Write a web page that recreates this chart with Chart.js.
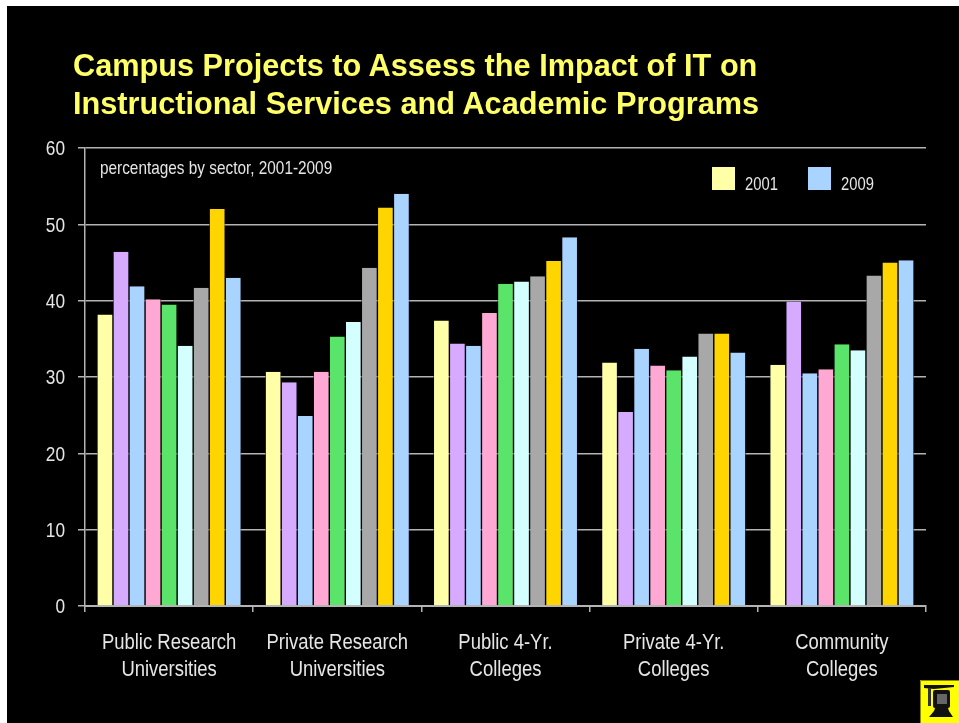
<!DOCTYPE html>
<html>
<head>
<meta charset="utf-8">
<title>Campus Projects</title>
<script src="https://cdn.jsdelivr.net/npm/chart.js@4"></script>
<style>
    html, body { margin: 0; padding: 0; background: #fff; width: 959px; height: 723px; overflow: hidden; }
    #panel { position: absolute; left: 7px; top: 6px; width: 952px; height: 717px; background: #000; }
    #lineChart { position: absolute; left: 0; top: 0; }
    .txt { position: absolute; white-space: nowrap; transform-origin: 0 0; }
    #title { left: 73px; top: 47px; color: #ffff66; font: bold 30.7px/38px "Liberation Sans", Arial, sans-serif; }
    #note { left: 100px; top: 158px; color: #e6e6e6; font: 18.5px/20px "Liberation Sans", sans-serif; transform: scaleX(0.83); }
    .swatch { position: absolute; top: 167px; width: 23px; height: 23px; }
    .leg { top: 174px; color: #e6e6e6; font: 18px/20px "Liberation Sans", sans-serif; transform: scaleX(0.82); }
    #logo { position: absolute; left: 920px; top: 680px; }
</style>
</head>
<body>
<div id="panel"></div>
<canvas id="lineChart" width="959" height="723"></canvas>
<div class="txt" id="title"></div>
<div class="txt" id="note"></div>
<div id="legendBox"></div>
<svg id="logo" width="39" height="43" viewBox="0 0 39 43">
    <rect x="0" y="0" width="39" height="43" fill="#ffff00"/>
    <path d="M0.5 43 L0.5 0.5 L39 0.5" fill="none" stroke="#8a8a00" stroke-width="1"/>
    <path d="M4 5 L34 5 L34 7 L14 9 L4 8 Z" fill="#111"/>
    <rect x="8" y="8" width="3" height="18" fill="#333"/>
    <rect x="13" y="10" width="17" height="18" rx="2" fill="#111"/>
    <rect x="17" y="14" width="10" height="10" fill="#666"/>
    <path d="M15 28 L28 28 L29 31 L33 37 L9 37 L14 31 Z" fill="#111"/>
</svg>
<script>
const titleLines = ['Campus Projects to Assess the Impact of IT on', 'Instructional Services and Academic Programs'];
const noteText = 'percentages by sector, 2001-2009';

const categories = [
    ['Public Research', 'Universities'],
    ['Private Research', 'Universities'],
    ['Public 4-Yr.', 'Colleges'],
    ['Private 4-Yr.', 'Colleges'],
    ['Community', 'Colleges']
];
const yTicks = [0, 10, 20, 30, 40, 50, 60];

const years = ['2001', '2002', '2003', '2004', '2005', '2006', '2007', '2008', '2009'];
const colors = ['#ffffa8', '#d6abff', '#a8d4ff', '#ffa8d4', '#5ae46a', '#d4ffff', '#a8a8a8', '#ffd500', '#a8d4ff'];

const y2001 = [38.2, 30.7, 37.4, 31.9, 31.6];
const y2002 = [46.4, 29.3, 34.4, 25.4, 39.9];
const y2003 = [41.9, 24.9, 34.1, 33.7, 30.5];
const y2004 = [40.2, 30.7, 38.4, 31.5, 31.0];
const y2005 = [39.5, 35.3, 42.2, 30.9, 34.3];
const y2006 = [34.1, 37.2, 42.5, 32.7, 33.5];
const y2007 = [41.7, 44.3, 43.2, 35.7, 43.3];
const y2008 = [52.0, 52.2, 45.2, 35.7, 45.0];
const y2009 = [43.0, 54.0, 48.3, 33.2, 45.3];
const series = [y2001, y2002, y2003, y2004, y2005, y2006, y2007, y2008, y2009];

const legendYears = ['2001', '2009'];

document.getElementById('title').innerHTML = titleLines.join('<br>');
document.getElementById('note').textContent = noteText;

// only the first and last year get a legend entry, same as the slide
const legendBox = document.getElementById('legendBox');
const legendX = [711.5, 807.5];
legendYears.forEach((yr, i) => {
    const sw = document.createElement('div');
    sw.className = 'swatch';
    sw.style.left = legendX[i] + 'px';
    sw.style.background = colors[years.indexOf(yr)];
    legendBox.appendChild(sw);
    const t = document.createElement('div');
    t.className = 'txt leg';
    t.style.left = (legendX[i] + 33) + 'px';
    t.textContent = yr;
    legendBox.appendChild(t);
});

const axisColor = '#b4b4b4';
const textColor = '#e6e6e6';

const canvas = document.getElementById('lineChart');

// no Arial Narrow here, so squeeze the tick labels sideways
const ctx2d = canvas.getContext('2d');
const plainFillText = ctx2d.fillText.bind(ctx2d);
ctx2d.fillText = function (text, x, y) {
    ctx2d.save();
    ctx2d.translate(x, y + 1.5);
    ctx2d.scale(0.82, 1);
    plainFillText(text, 0, 0);
    ctx2d.restore();
};

new Chart(canvas, {
    type: 'bar',
    data: {
        labels: categories,
        datasets: series.map((values, i) => ({
            label: years[i],
            data: values,
            backgroundColor: colors[i],
            borderColor: '#000',
            borderWidth: { left: 0.7, right: 0.7, top: 0, bottom: 0 },
            categoryPercentage: 0.858,
            barPercentage: 1
        }))
    },
    options: {
        responsive: false,
        animation: false,
        layout: { padding: { top: 148, right: 33, left: 0, bottom: 0 } },
        plugins: { legend: { display: false }, tooltip: { enabled: false } },
        scales: {
            x: {
                afterFit: scale => { scale.height = 117; },
                border: { color: axisColor, width: 2 },
                grid: { drawOnChartArea: false, color: axisColor, tickLength: 6, lineWidth: 1.5 },
                ticks: {
                    color: textColor,
                    padding: 16,
                    maxRotation: 0,
                    autoSkip: false,
                    font: { family: '"Liberation Sans", sans-serif', size: 22.5, lineHeight: 1.2 }
                }
            },
            y: {
                min: 0,
                max: 60,
                afterFit: scale => { scale.width = 85; },
                afterBuildTicks: scale => { scale.ticks = yTicks.map(v => ({ value: v })); },
                border: { color: axisColor, width: 1.5 },
                grid: { color: axisColor, lineWidth: 1.5, tickLength: 7 },
                ticks: {
                    color: textColor,
                    padding: 13,
                    font: { family: '"Liberation Sans", sans-serif', size: 21 }
                }
            }
        }
    }
});
</script>
</body>
</html>
